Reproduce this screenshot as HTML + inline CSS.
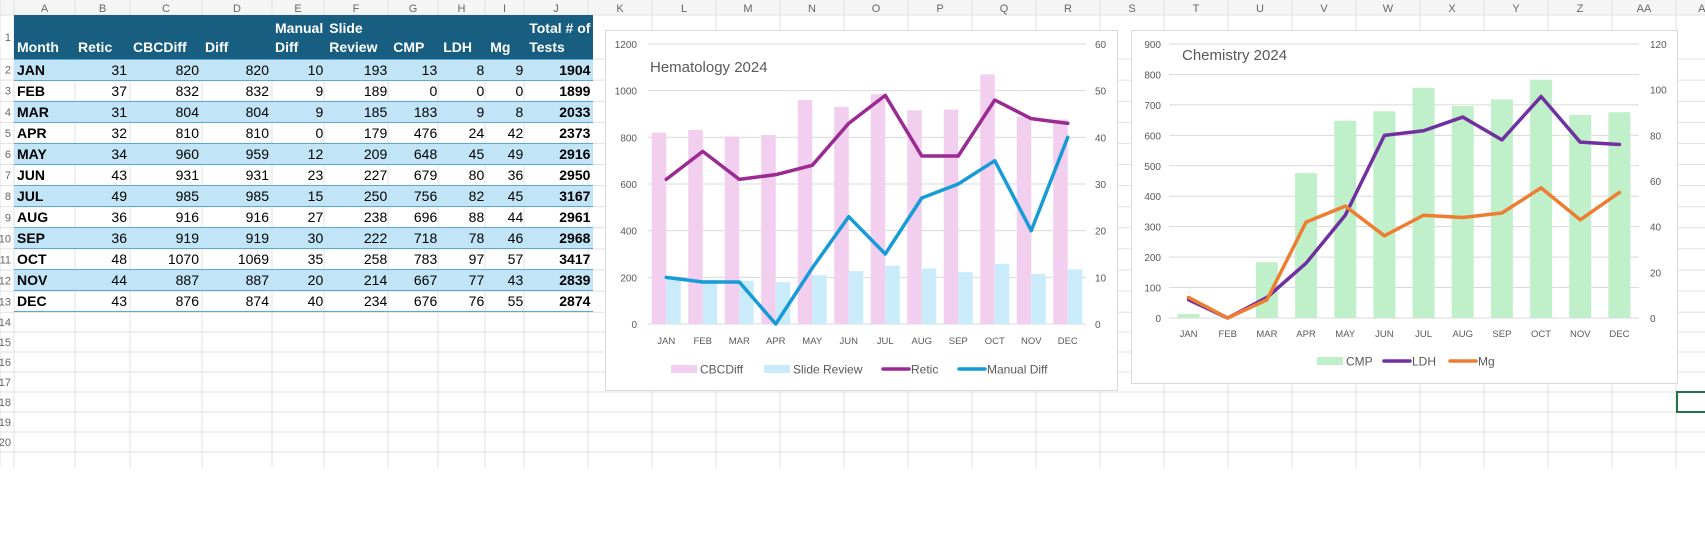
<!DOCTYPE html>
<html><head><meta charset="utf-8">
<style>
body{margin:0;width:1705px;height:540px;overflow:hidden;background:#fff;font-family:"Liberation Sans Narrow","Liberation Sans",sans-serif;position:relative}
#grid{position:absolute;left:0;top:0}
table{position:absolute;left:14px;top:15px;border-collapse:collapse;table-layout:fixed;font-size:14px}
td{padding:0 3px;height:21px;box-sizing:border-box;border-top:1px solid #5aa7d8;white-space:nowrap;text-align:right;color:#000;overflow:hidden}
tr.hd td{background:#175e80;color:#fff;font-weight:bold;height:44px;vertical-align:bottom;text-align:left;line-height:19px;border:none;padding-bottom:2px}
tr.b td{background:#c1e5f6}
td.m{text-align:left;font-weight:bold}
td.t{font-weight:bold}
svg text{font-family:"Liberation Sans",sans-serif}
</style></head><body>
<svg id="grid" width="1705" height="540"></svg>
<table>
<colgroup><col style="width:61px"><col style="width:55px"><col style="width:72px"><col style="width:70px"><col style="width:52px"><col style="width:64px"><col style="width:50px"><col style="width:47px"><col style="width:39px"><col style="width:64px"></colgroup>
<tr class="hd"><td>Month</td><td>Retic</td><td>CBCDiff</td><td>Diff</td><td>Manual<br>Diff</td><td>Slide<br>Review</td><td>CMP</td><td>LDH</td><td>Mg</td><td>Total # of<br>Tests</td></tr>
<tbody id="tb"></tbody>
</table>
<svg id="c1" style="position:absolute;left:605px;top:30px" width="513" height="361"></svg>
<svg id="c2" style="position:absolute;left:1131px;top:30px" width="547" height="354"></svg>
<script>
const months=["JAN","FEB","MAR","APR","MAY","JUN","JUL","AUG","SEP","OCT","NOV","DEC"];
const retic=[31,37,31,32,34,43,49,36,36,48,44,43];
const cbcdiff=[820,832,804,810,960,931,985,916,919,1070,887,876];
const diff=[820,832,804,810,959,931,985,916,919,1069,887,874];
const manualDiff=[10,9,9,0,12,23,15,27,30,35,20,40];
const slideReview=[193,189,185,179,209,227,250,238,222,258,214,234];
const cmp=[13,0,183,476,648,679,756,696,718,783,667,676];
const ldh=[8,0,9,24,45,80,82,88,78,97,77,76];
const mg=[9,0,8,42,49,36,45,44,46,57,43,55];
const totals=[1904,1899,2033,2373,2916,2950,3167,2961,2968,3417,2839,2874];
const hemLeftTicks=[0,200,400,600,800,1000,1200];
const hemRightTicks=[0,10,20,30,40,50,60];
const chemLeftTicks=[0,100,200,300,400,500,600,700,800,900];
const chemRightTicks=[0,20,40,60,80,100,120];

const NS="http://www.w3.org/2000/svg";
function mk(p,tag,at){const e=document.createElementNS(NS,tag);for(const k in at)e.setAttribute(k,at[k]);p.appendChild(e);return e;}
function tx(p,x,y,s,at){const e=mk(p,"text",Object.assign({x:x,y:y},at));e.textContent=s;return e;}

// spreadsheet grid
const g=document.getElementById("grid");
const colB=[0,14,75,130,202,272,324,388,438,485,524,588];
for(let x=652;x<1705;x+=64)colB.push(x);
const letters=["A","B","C","D","E","F","G","H","I","J","K","L","M","N","O","P","Q","R","S","T","U","V","W","X","Y","Z","AA","AB"];
mk(g,"rect",{x:0,y:0,width:1705,height:15,fill:"#f5f5f5"});
const rowB=[15,59];for(let i=1;i<=12;i++)rowB.push(59+i*21.1);
for(let y=332;y<=468;y+=20)rowB.push(y);
rowB.forEach(y=>{const l=mk(g,"line",{x1:0,x2:1705,y1:y,y2:y,stroke:"#e1e1e1"});});
colB.forEach(x=>{const l=mk(g,"line",{x1:x,x2:x,y1:0,y2:468,stroke:"#e1e1e1"});});
for(let i=1;i<colB.length;i++){const t=tx(g,(colB[i]+(colB[i+1]||1705+30))/2,12,letters[i-1]||"",{"font-size":11,fill:"#666","text-anchor":"middle"});}
for(let i=0;i<rowB.length-1;i++){const t=tx(g,11,(rowB[i]+rowB[i+1])/2+4,String(i+1),{"font-size":11,fill:"#666","text-anchor":"end"});}
const sel=mk(g,"rect",{x:1677,y:392,width:30,height:20,fill:"none",stroke:"#217346","stroke-width":2});



// table rows
const tb=document.getElementById("tb");
months.forEach((m,i)=>{
 const tr=document.createElement("tr");if(i%2==0)tr.className="b";
 
 
 const vals=[m,retic[i],cbcdiff[i],diff[i],manualDiff[i],slideReview[i],cmp[i],ldh[i],mg[i],totals[i]];
 vals.forEach((v,j)=>{const td=document.createElement("td");td.textContent=v;if(j==0)td.className="m";if(j==9)td.className="t";
 
 
 tr.appendChild(td);});
 if(i==11)tr.style.borderBottom="1px solid #5aa7d8";
 tb.appendChild(tr);
});

function chart(svg,o){
 mk(svg,"rect",{x:0.5,y:0.5,width:o.W-1,height:o.H-1,fill:"#fff",stroke:"#d9d9d9"});
 const yL=v=>o.y0-(v/o.lmax)*(o.y0-o.y1);
 const yR=v=>o.y0-(v/o.rmax)*(o.y0-o.y1);
 const cw=(o.x1-o.x0)/months.length;
 const xc=i=>o.x0+cw*(i+0.5);
 o.lt.forEach(v=>{const l=mk(svg,"line",{x1:o.x0,x2:o.x1,y1:yL(v),y2:yL(v),stroke:"#d9d9d9"});
  const t=tx(svg,o.lx,yL(v)+4,v,{"font-size":10,fill:"#595959","text-anchor":"end"});});
 o.rt.forEach(v=>{const t=tx(svg,o.rx,yR(v)+4,v,{"font-size":10,fill:"#595959"});});
 const tt=tx(svg,o.tx,o.ty,o.title,{"font-size":15,fill:"#595959"});
 
 
 months.forEach((m,i)=>{const t=tx(svg,xc(i),o.xly,m,{"font-size":9.5,fill:"#595959","text-anchor":"middle"});});
 const nb=o.bars.length,bw=o.bw;
 o.bars.forEach((b,k)=>{b.data.forEach((v,i)=>{
  const x=xc(i)-nb*bw/2+k*bw;
  const r=mk(svg,"rect",{x:x,y:yL(v),width:bw,height:o.y0-yL(v),fill:b.color});
  
  
 });});
 o.lines.forEach(L=>{
  const p=mk(svg,"polyline",{points:L.data.map((v,i)=>xc(i)+","+yR(v)).join(" "),fill:"none",stroke:L.color,"stroke-width":3.5,"stroke-linejoin":"round","stroke-linecap":"round"});
  
  
 });
 o.legend.forEach(e=>{
  let s;
  if(e.type=="bar")s=mk(svg,"rect",{x:e.x,y:o.ly-4,width:26,height:8,fill:e.color});
  else s=mk(svg,"line",{x1:e.x+1,x2:e.x+27,y1:o.ly,y2:o.ly,stroke:e.color,"stroke-width":3.5,"stroke-linecap":"round"});
  
  
  const t=tx(svg,e.x+29,o.ly+4.5,e.label,{"font-size":12,fill:"#595959"});
  
  
 });
}
chart(document.getElementById("c1"),{W:513,H:361,x0:43,x1:481,y0:294,y1:14,lmax:1200,rmax:60,lt:hemLeftTicks,rt:hemRightTicks,lx:32,rx:490,
 title:"Hematology 2024",tx:45,ty:42,xly:314,bw:14.5,ly:309+30,
 bars:[{name:"CBCDiff",data:cbcdiff,color:"#f2cfee"},{name:"Slide Review",data:slideReview,color:"#caecfa"}],
 lines:[{name:"Retic",data:retic,color:"#9b2a93"},{name:"Manual Diff",data:manualDiff,color:"#179bd7"}],
 legend:[{type:"bar",x:66,color:"#f2cfee",label:"CBCDiff"},{type:"bar",x:159,color:"#caecfa",label:"Slide Review"},{type:"line",x:277,color:"#9b2a93",label:"Retic"},{type:"line",x:353,color:"#179bd7",label:"Manual Diff"}]});
chart(document.getElementById("c2"),{W:547,H:354,x0:38,x1:508,y0:288,y1:14,lmax:900,rmax:120,lt:chemLeftTicks,rt:chemRightTicks,lx:30,rx:519,
 title:"Chemistry 2024",tx:51,ty:30,xly:307,bw:22,ly:331,
 bars:[{name:"CMP",data:cmp,color:"#c0f0ca"}],
 lines:[{name:"LDH",data:ldh,color:"#7030a0"},{name:"Mg",data:mg,color:"#ed7d31"}],
 legend:[{type:"bar",x:186,color:"#c0f0ca",label:"CMP"},{type:"line",x:252,color:"#7030a0",label:"LDH"},{type:"line",x:318,color:"#ed7d31",label:"Mg"}]});
</script>
</body></html>
